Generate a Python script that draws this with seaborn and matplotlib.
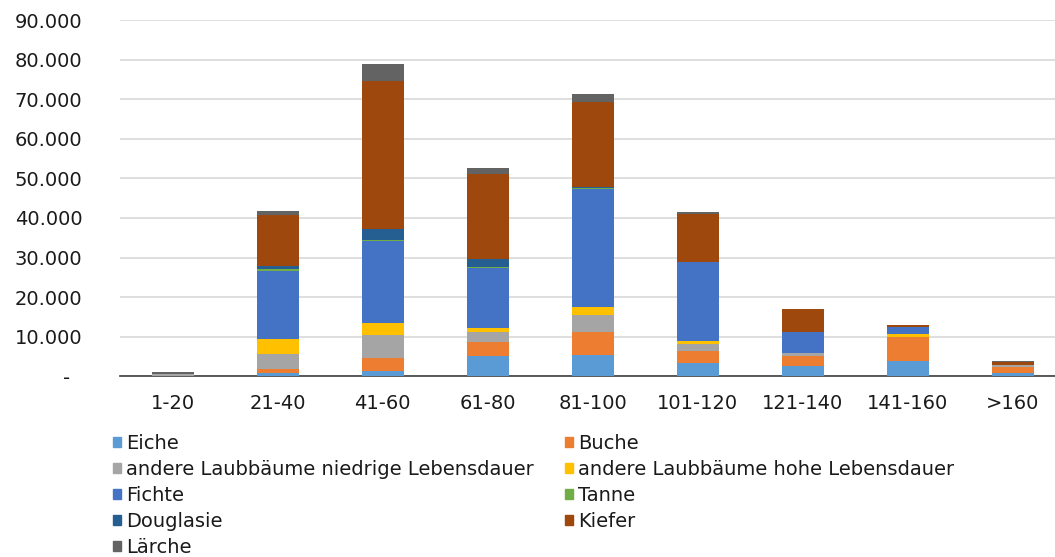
import seaborn as sns
import matplotlib.pyplot as plt
import matplotlib.patches as mpatches
import pandas as pd
import numpy as np

sns.set_style("white")
plt.rcParams['font.family'] = ['DejaVu Sans']

# Altersklassen (Jahre)
categories = ['1-20', '21-40', '41-60', '61-80', '81-100',
              '101-120', '121-140', '141-160', '>160']

# Flaeche je Baumart und Altersklasse
eiche = [50, 900, 1400, 5200, 5300, 3300, 2600, 3850, 900]
buche = [50, 870, 3130, 3450, 5870, 3180, 2520, 5970, 1450]
laub_niedrig = [400, 3850, 5880, 2450, 4210, 1690, 680, 200, 400]
laub_hoch = [0, 3860, 2950, 1160, 2020, 680, 200, 600, 0]
fichte = [0, 17080, 20830, 15130, 30010, 20000, 5250, 1770, 0]
tanne = [0, 580, 200, 300, 200, 0, 0, 0, 0]
douglasie = [0, 760, 2930, 1820, 300, 0, 0, 0, 0]
kiefer = [100, 12860, 37220, 21690, 21350, 12100, 5720, 500, 940]
laerche = [400, 930, 4220, 1510, 2110, 580, 100, 100, 100]

series = [
    ('Eiche', eiche, '#5B9BD5'),
    ('Buche', buche, '#ED7D31'),
    ('andere Laubbäume niedrige Lebensdauer', laub_niedrig, '#A5A5A5'),
    ('andere Laubbäume hohe Lebensdauer', laub_hoch, '#FFC000'),
    ('Fichte', fichte, '#4472C4'),
    ('Tanne', tanne, '#70AD47'),
    ('Douglasie', douglasie, '#255E91'),
    ('Kiefer', kiefer, '#9E480E'),
    ('Lärche', laerche, '#636363'),
]

fig = plt.figure(figsize=(10.55, 5.57), dpi=100)
ax = fig.add_axes([120 / 1055, (557 - 376.3) / 557, 935 / 1055, 356.3 / 557])

# stacked bars: draw cumulative totals from top layer down
cum = np.cumsum([s[1] for s in series], axis=0)
for i in range(len(series) - 1, -1, -1):
    df = pd.DataFrame({'Altersklasse': categories, 'Wert': cum[i]})
    sns.barplot(data=df, x='Altersklasse', y='Wert', color=series[i][2],
                width=0.4, saturation=1, ax=ax, linewidth=0, zorder=3)

ax.set_xlim(-0.5, 8.4)
ax.set_ylim(0, 90000)
ax.set_yticks(np.arange(0, 90001, 10000))
ax.set_yticklabels(['-  '] + ['{:,}'.format(v).replace(',', '.')
                              for v in range(10000, 90001, 10000)])
ax.yaxis.grid(True, color='#D9D9D9', linewidth=1.2, zorder=0)
ax.set_axisbelow(True)
for side in ['left', 'right', 'top']:
    ax.spines[side].set_visible(False)
ax.spines['bottom'].set_color('#404040')
ax.spines['bottom'].set_linewidth(1.2)
ax.tick_params(axis='y', length=0, pad=27, labelsize=14, colors='#1a1a1a')
ax.tick_params(axis='x', length=0, pad=13, labelsize=14, colors='#1a1a1a')
ax.set_xlabel('')
ax.set_ylabel('')

# legend, row-major order in two columns
col1 = [0, 2, 4, 6, 8]
col2 = [1, 3, 5, 7]
handles = [mpatches.Patch(color=series[i][2], label=series[i][0]) for i in col1 + col2]
fig.legend(handles=handles, ncol=2, loc='upper left',
           bbox_to_anchor=(113 / 1055, (557 - 434) / 557),
           frameon=False, fontsize=14, handlelength=0.4, handleheight=0.4,
           handletextpad=0.25, columnspacing=1.65, labelspacing=0.36,
           borderpad=0, borderaxespad=0, labelcolor='#1a1a1a')

plt.savefig('out.png', dpi=100)
